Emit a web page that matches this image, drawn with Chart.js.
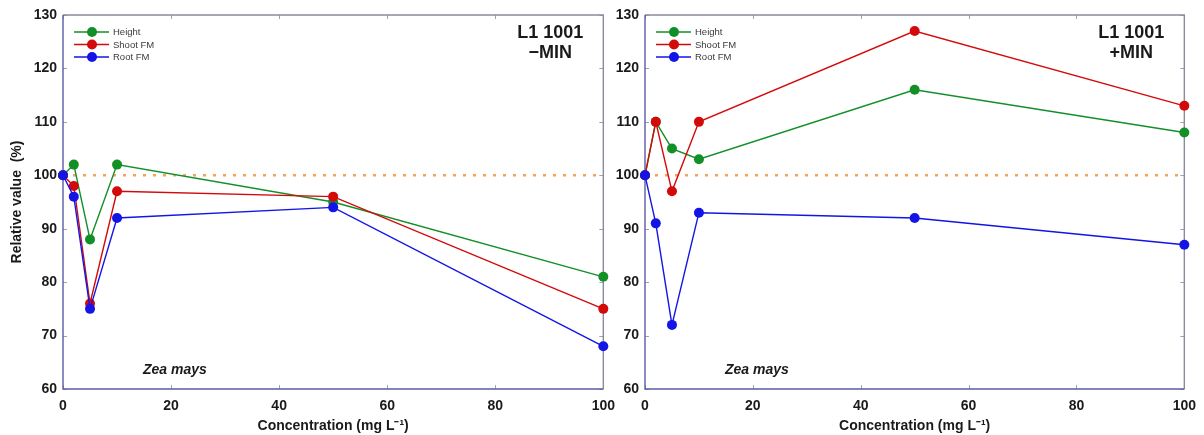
<!DOCTYPE html>
<html>
<head>
<meta charset="utf-8">
<title>Zea mays – L1 1001</title>
<script src="https://cdn.jsdelivr.net/npm/chart.js@4.4.1/dist/chart.umd.min.js"></script>
<style>
  html, body { margin: 0; padding: 0; background: #ffffff; }
  #wrap { position: relative; width: 1204px; height: 435px; background: #ffffff; overflow: hidden; }
  #wrap canvas { position: absolute; top: 0; }
</style>
</head>
<body>
<div id="wrap">
  <canvas id="minus" width="624" height="435" style="left:0px"></canvas>
  <canvas id="plus" width="605" height="435" style="left:600px"></canvas>
</div>
<script>
// Concentrations (mg L-1)
const concentration = [0, 2, 5, 10, 50, 100];

// Relative values (%) without mineral supplement
const heightMinus = [100, 102, 88, 102, 95, 81];
const shootMinus  = [100, 98, 76, 97, 96, 75];
const rootMinus   = [100, 96, 75, 92, 94, 68];

// Relative values (%) with mineral supplement
const heightPlus = [100, 110, 105, 103, 116, 108];
const shootPlus  = [100, 110, 97, 110, 127, 113];
const rootPlus   = [100, 91, 72, 93, 92, 87];

// Control level and axis ticks
const controlLevel = 100;
const xTicks = [0, 20, 40, 60, 80, 100];
const yTicks = [60, 70, 80, 90, 100, 110, 120, 130];

const seriesNames = ['Height', 'Shoot FM', 'Root FM'];
const COLORS = { Height: '#138f28', 'Shoot FM': '#d40a0a', 'Root FM': '#1414e6' };
const FONT = '"Liberation Sans", Arial, Helvetica, sans-serif';

function toPoints(values) {
  return concentration.map((c, i) => ({ x: c, y: values[i] }));
}

function series(name, values, order) {
  const col = COLORS[name];
  return {
    label: name,
    data: toPoints(values),
    borderColor: col,
    backgroundColor: col,
    pointBackgroundColor: col,
    pointBorderColor: col,
    borderWidth: 1.4,
    pointRadius: 5,
    pointBorderWidth: 0,
    pointHoverRadius: 5,
    tension: 0,
    clip: false,
    order: order
  };
}

function controlLine() {
  return {
    label: 'control',
    data: [{ x: xTicks[0], y: controlLevel }, { x: xTicks[xTicks.length - 1], y: controlLevel }],
    borderColor: '#f4a35a',
    borderWidth: 2.4,
    borderDash: [3, 7],
    pointRadius: 0,
    order: 10
  };
}

// Frame and inward ticks underneath the series; legend, panel title and species label on top
const panelDecor = {
  id: 'panelDecor',
  beforeDatasetsDraw(chart) {
    const { ctx, chartArea: a, scales } = chart;
    ctx.save();
    ctx.strokeStyle = '#a0a0b8';
    ctx.lineWidth = 1;
    ctx.beginPath();
    xTicks.forEach(v => {
      const px = Math.round(scales.x.getPixelForValue(v)) + 0.5;
      ctx.moveTo(px, a.bottom); ctx.lineTo(px, a.bottom - 4);
      ctx.moveTo(px, a.top); ctx.lineTo(px, a.top + 4);
    });
    yTicks.forEach(v => {
      const py = Math.round(scales.y.getPixelForValue(v)) + 0.5;
      ctx.moveTo(a.left, py); ctx.lineTo(a.left + 4, py);
      ctx.moveTo(a.right, py); ctx.lineTo(a.right - 4, py);
    });
    ctx.stroke();
    ctx.lineWidth = 1.4;
    ctx.strokeStyle = '#8a8a9a';
    ctx.beginPath();
    ctx.moveTo(a.left, a.top); ctx.lineTo(a.right, a.top); ctx.lineTo(a.right, a.bottom);
    ctx.stroke();
    ctx.strokeStyle = '#5c5ca6';
    ctx.beginPath();
    ctx.moveTo(a.left, a.top); ctx.lineTo(a.left, a.bottom); ctx.lineTo(a.right, a.bottom);
    ctx.stroke();
    ctx.restore();
  },
  afterDatasetsDraw(chart, args, opts) {
    const { ctx, chartArea: a } = chart;
    ctx.save();
    // legend
    ctx.font = '9.5px ' + FONT;
    ctx.textBaseline = 'middle';
    ctx.textAlign = 'left';
    seriesNames.forEach((name, i) => {
      const y = a.top + 17 + i * 12.5;
      ctx.strokeStyle = COLORS[name];
      ctx.lineWidth = 1.3;
      ctx.beginPath();
      ctx.moveTo(a.left + 11, y); ctx.lineTo(a.left + 46, y);
      ctx.stroke();
      ctx.fillStyle = COLORS[name];
      ctx.beginPath();
      ctx.arc(a.left + 29, y, 5, 0, Math.PI * 2);
      ctx.fill();
      ctx.fillStyle = '#3a3a3a';
      ctx.fillText(name, a.left + 50, y + 0.5);
    });

    // panel title
    ctx.fillStyle = '#1a1a1a';
    ctx.font = 'bold 18px ' + FONT;
    ctx.textAlign = 'center';
    opts.title.forEach((line, i) => {
      ctx.fillText(line, a.right - 53, a.top + 18 + i * 20);
    });

    // species
    ctx.font = 'italic bold 14px ' + FONT;
    ctx.textAlign = 'left';
    ctx.fillText('Zea mays', a.left + 80, a.bottom - 19);
    ctx.restore();
  }
};

function makeChart(id, datasets, yWidth, padRight, showYTitle, title) {
  return new Chart(document.getElementById(id), {
    type: 'line',
    data: { datasets },
    plugins: [panelDecor],
    options: {
      responsive: false,
      animation: false,
      events: [],
      layout: { padding: { top: 15, right: padRight, left: 0, bottom: 0 } },
      plugins: {
        legend: { display: false },
        tooltip: { enabled: false },
        panelDecor: { title }
      },
      scales: {
        x: {
          type: 'linear',
          min: 0, max: 100,
          afterFit(s) { s.height = 46; },
          afterBuildTicks(s) { s.ticks = xTicks.map(v => ({ value: v })); },
          grid: { display: false, drawTicks: false },
          border: { display: false },
          ticks: { padding: 9, color: '#1a1a1a', font: { family: FONT, size: 14, weight: 'bold' } },
          title: {
            display: true,
            text: 'Concentration (mg L\u207B\u00B9)',
            color: '#1a1a1a',
            padding: { top: 0, bottom: 0 },
            font: { family: FONT, size: 14, weight: 'bold' }
          }
        },
        y: {
          type: 'linear',
          min: 60, max: 130,
          afterFit(s) { s.width = yWidth; },
          afterBuildTicks(s) { s.ticks = yTicks.map(v => ({ value: v })); },
          grid: { display: false, drawTicks: false },
          border: { display: false },
          ticks: { padding: 6, color: '#1a1a1a', font: { family: FONT, size: 14, weight: 'bold' } },
          title: {
            display: showYTitle,
            text: 'Relative value  (%)',
            color: '#1a1a1a',
            padding: { top: 9, bottom: 0 },
            font: { family: FONT, size: 14, weight: 'bold' }
          }
        }
      }
    }
  });
}

makeChart('minus', [
  series('Root FM', rootMinus, 1),
  series('Shoot FM', shootMinus, 2),
  series('Height', heightMinus, 3),
  controlLine()
], 63, 13, true, ['L1 1001', '\u2212MIN']);

makeChart('plus', [
  series('Root FM', rootPlus, 1),
  series('Shoot FM', shootPlus, 2),
  series('Height', heightPlus, 3),
  controlLine()
], 45, 13, false, ['L1 1001', '+MIN']);
</script>
</body>
</html>
